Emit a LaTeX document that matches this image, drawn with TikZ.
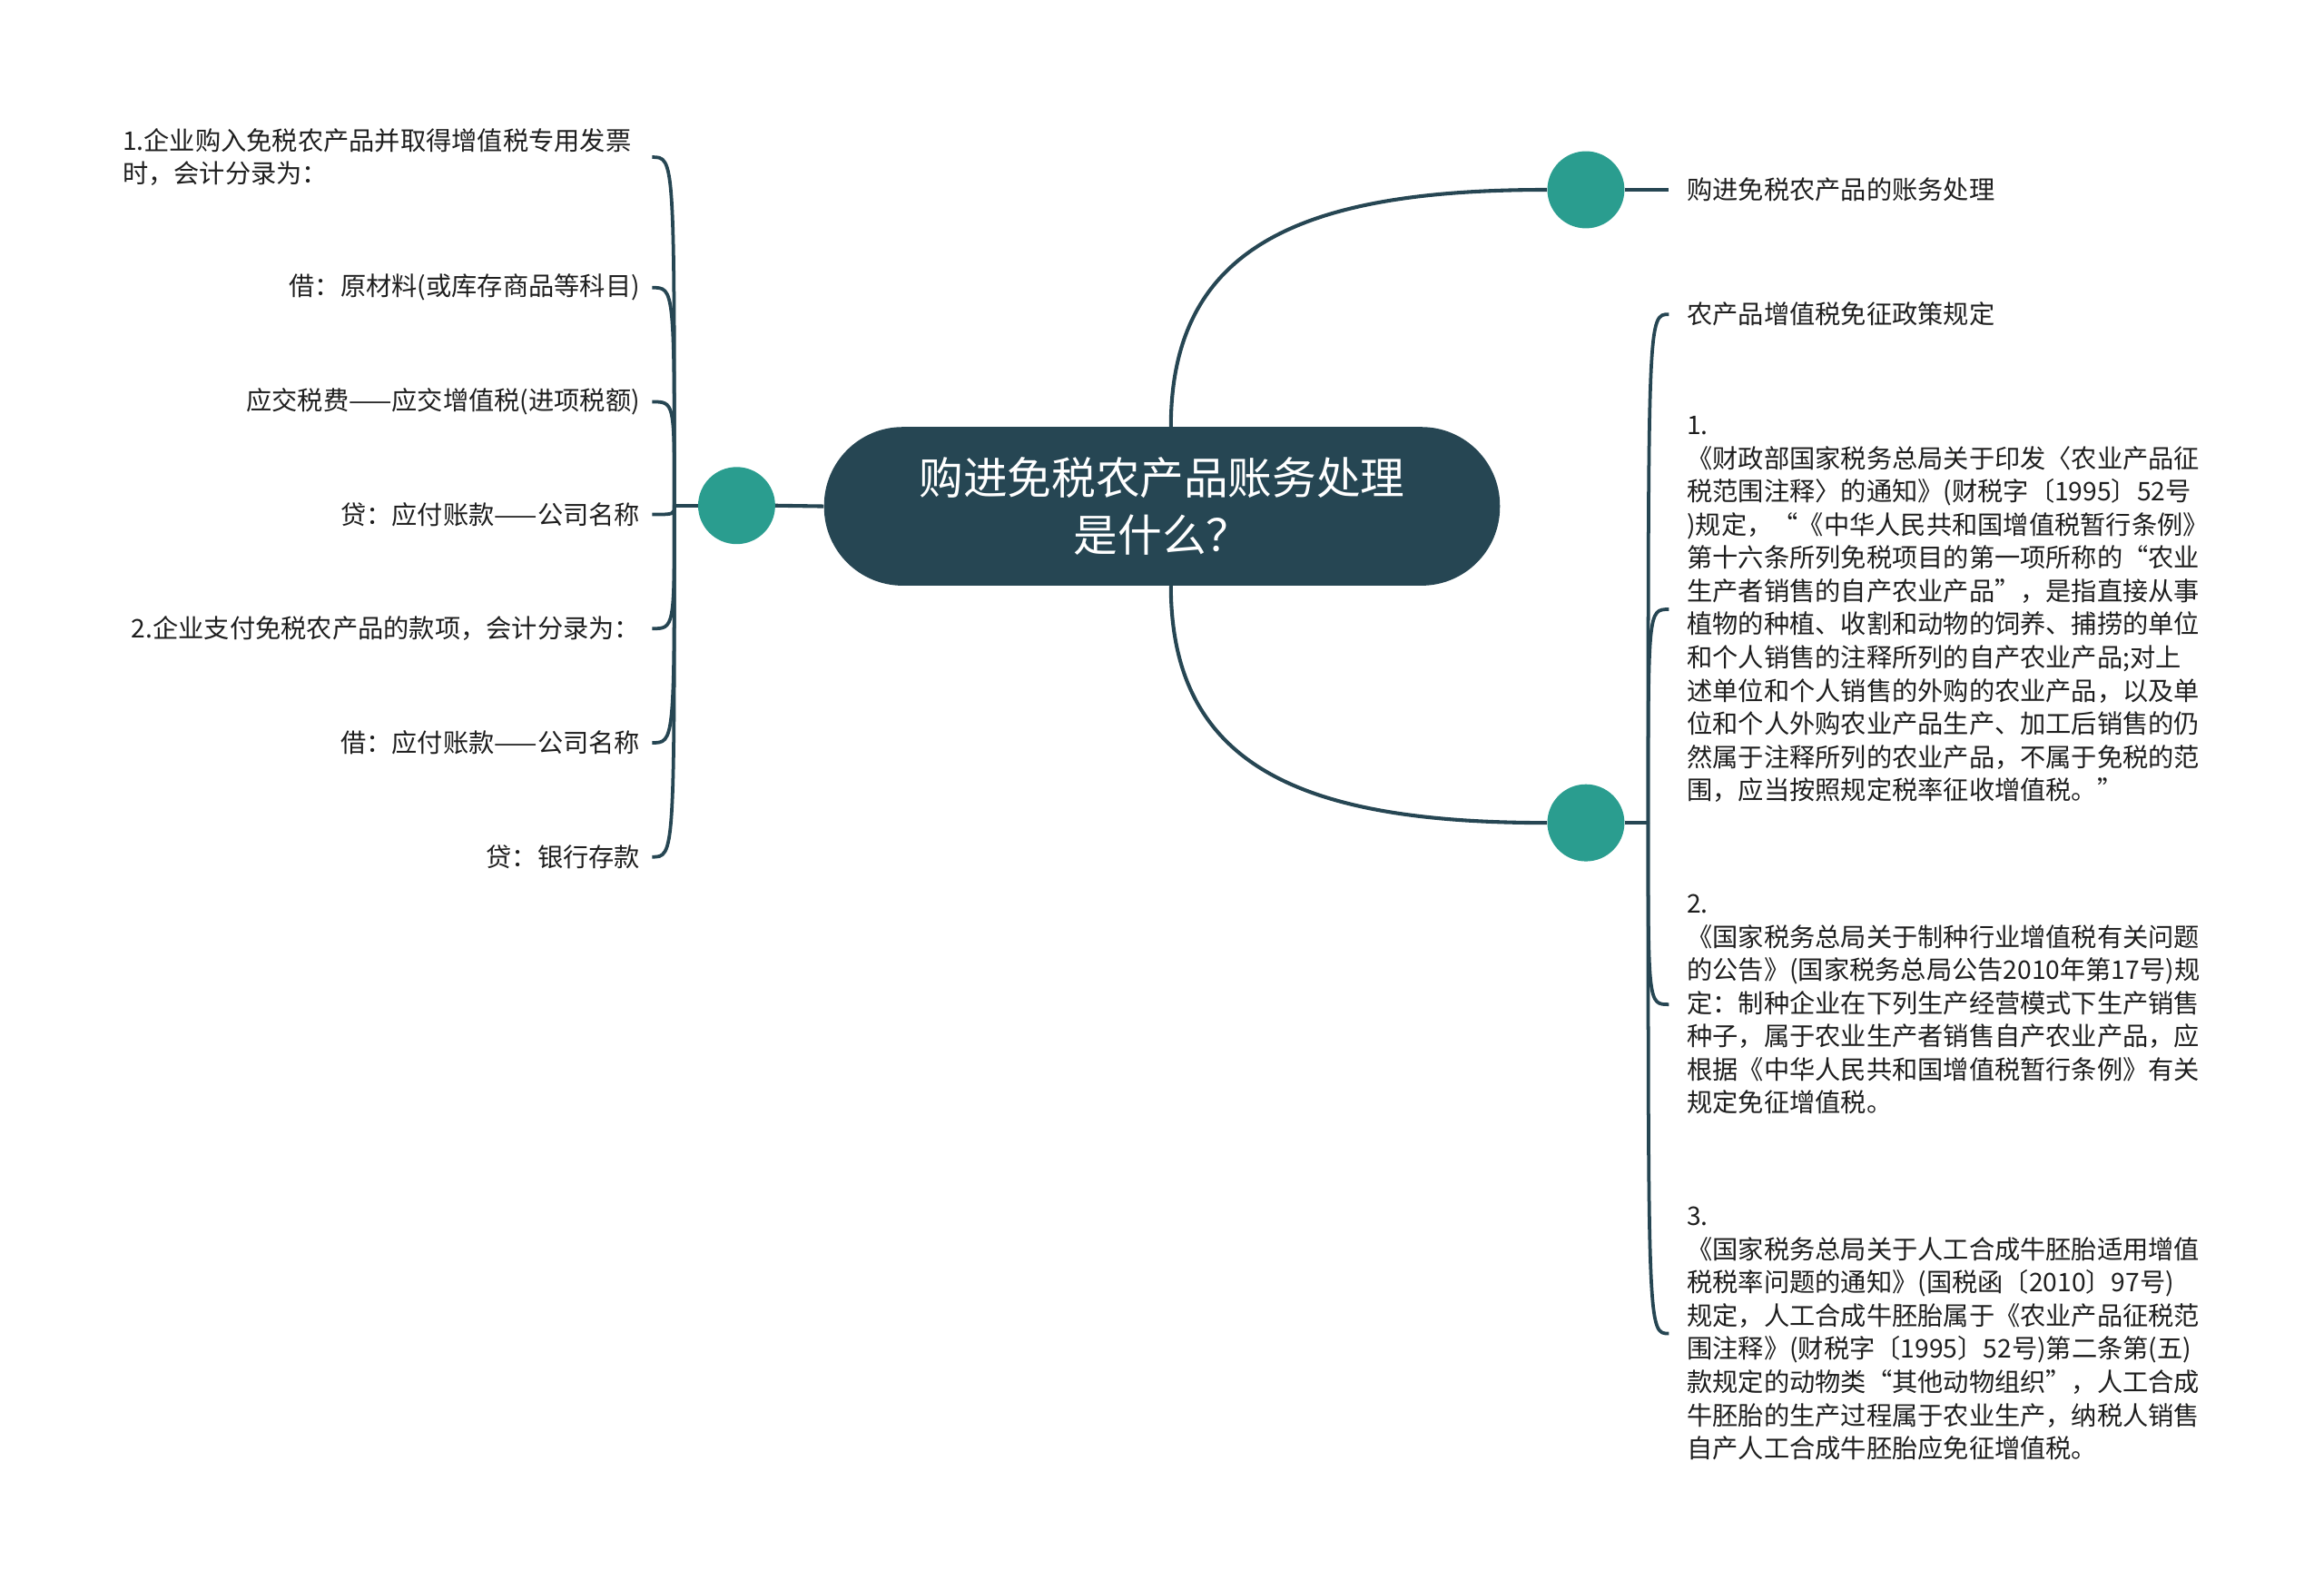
\documentclass[tikz,border=0pt]{standalone}
\usepackage{fontspec}
\setmainfont{Noto Sans CJK SC}
\usepackage{tikz}
\usetikzlibrary{positioning}
\definecolor{rootcolor}{RGB}{38, 70, 83}
\definecolor{dotcolor}{RGB}{42, 157, 143}
\definecolor{leaftext}{RGB}{30, 30, 30}

\begin{document}
\begin{tikzpicture}[
    x=1pt, y=-1pt,
    root/.style={fill=rootcolor, rounded corners=53pt, minimum width=456pt, minimum height=107pt, text=white, font=\fontsize{29.8}{39}\selectfont, align=center},
    dot/.style={circle, fill=dotcolor, minimum size=52pt, inner sep=0pt},
    lleaf/.style={anchor=east, inner xsep=8pt, inner ysep=2pt, text=leaftext, font=\fontsize{17.3}{22.4}\selectfont, align=right},
    rleaf/.style={anchor=west, inner xsep=12pt, inner ysep=2pt, text=leaftext, font=\fontsize{17.3}{22.4}\selectfont, align=left},
    trunk/.style={draw=rootcolor, line width=2.5pt},
    branch/.style={draw=rootcolor, line width=2.3pt}
]
\useasboundingbox (0,0) rectangle (1568,1072);

% Central topic
\node[root] (root) at (784,341.5) {购进免税农产品账务处理\\是什么？};

% Left branch: bookkeeping entries
\node[dot] (ldot) at (497,341) {};
\coordinate (lhub) at (455,341);
\node[lleaf, text width=349pt, align=left] (l1) at (440,106) {1.企业购入免税农产品并取得增值税专用发票\\时，会计分录为：};
\node[lleaf] (l2) at (440,194) {借：原材料(或库存商品等科目)};
\node[lleaf] (l3) at (440,271) {应交税费——应交增值税(进项税额)};
\node[lleaf] (l4) at (440,347) {贷：应付账款——公司名称};
\node[lleaf] (l5) at (440,424) {2.企业支付免税农产品的款项，会计分录为：};
\node[lleaf] (l6) at (440,501) {借：应付账款——公司名称};
\node[lleaf] (l7) at (440,578) {贷：银行存款};

% Right upper branch
\node[dot] (rdot) at (1070,128) {};
\node[rleaf] (r0) at (1126,128) {购进免税农产品的账务处理};

% Right lower branch: policy rules
\node[dot] (pdot) at (1070,555) {};
\coordinate (phub) at (1112,555);
\node[rleaf] (p1) at (1126,212) {农产品增值税免征政策规定};
\node[rleaf] (p2) at (1126,411) {1.\\《财政部国家税务总局关于印发〈农业产品征\\税范围注释〉的通知》(财税字〔1995〕52号\\)规定，“《中华人民共和国增值税暂行条例》\\第十六条所列免税项目的第一项所称的“农业\\生产者销售的自产农业产品”，是指直接从事\\植物的种植、收割和动物的饲养、捕捞的单位\\和个人销售的注释所列的自产农业产品;对上\\述单位和个人销售的外购的农业产品，以及单\\位和个人外购农业产品生产、加工后销售的仍\\然属于注释所列的农业产品，不属于免税的范\\围，应当按照规定税率征收增值税。”};
\node[rleaf] (p3) at (1126,677.5) {2.\\《国家税务总局关于制种行业增值税有关问题\\的公告》(国家税务总局公告2010年第17号)规\\定：制种企业在下列生产经营模式下生产销售\\种子，属于农业生产者销售自产农业产品，应\\根据《中华人民共和国增值税暂行条例》有关\\规定免征增值税。};
\node[rleaf] (p4) at (1126,899.5) {3.\\《国家税务总局关于人工合成牛胚胎适用增值\\税税率问题的通知》(国税函〔2010〕97号)\\规定，人工合成牛胚胎属于《农业产品征税范\\围注释》(财税字〔1995〕52号)第二条第(五)\\款规定的动物类“其他动物组织”，人工合成\\牛胚胎的生产过程属于农业生产，纳税人销售\\自产人工合成牛胚胎应免征增值税。};

% Connectors
\draw[trunk] (root.west) -- (ldot.east);
\draw[branch] (ldot.west) -- (lhub);
\draw[branch] (lhub) .. controls (lhub |- l1.east) .. (l1.east);
\draw[branch] (lhub) .. controls (lhub |- l2.east) .. (l2.east);
\draw[branch] (lhub) .. controls (lhub |- l3.east) .. (l3.east);
\draw[branch] (lhub) .. controls (lhub |- l4.east) .. (l4.east);
\draw[branch] (lhub) .. controls (lhub |- l5.east) .. (l5.east);
\draw[branch] (lhub) .. controls (lhub |- l6.east) .. (l6.east);
\draw[branch] (lhub) .. controls (lhub |- l7.east) .. (l7.east);

\draw[trunk] ([xshift=6pt]root.north) .. controls (790,165) and (880,128) .. (rdot.west);
\draw[branch] (rdot.east) -- (r0.west);

\draw[trunk] ([xshift=6pt]root.south) .. controls (790,518) and (880,555) .. (pdot.west);
\draw[branch] (pdot.east) -- (phub);
\draw[branch] (phub) .. controls (phub |- p1.west) .. (p1.west);
\draw[branch] (phub) .. controls (phub |- p2.west) .. (p2.west);
\draw[branch] (phub) .. controls (phub |- p3.west) .. (p3.west);
\draw[branch] (phub) .. controls (phub |- p4.west) .. (p4.west);

\end{tikzpicture}
\end{document}
